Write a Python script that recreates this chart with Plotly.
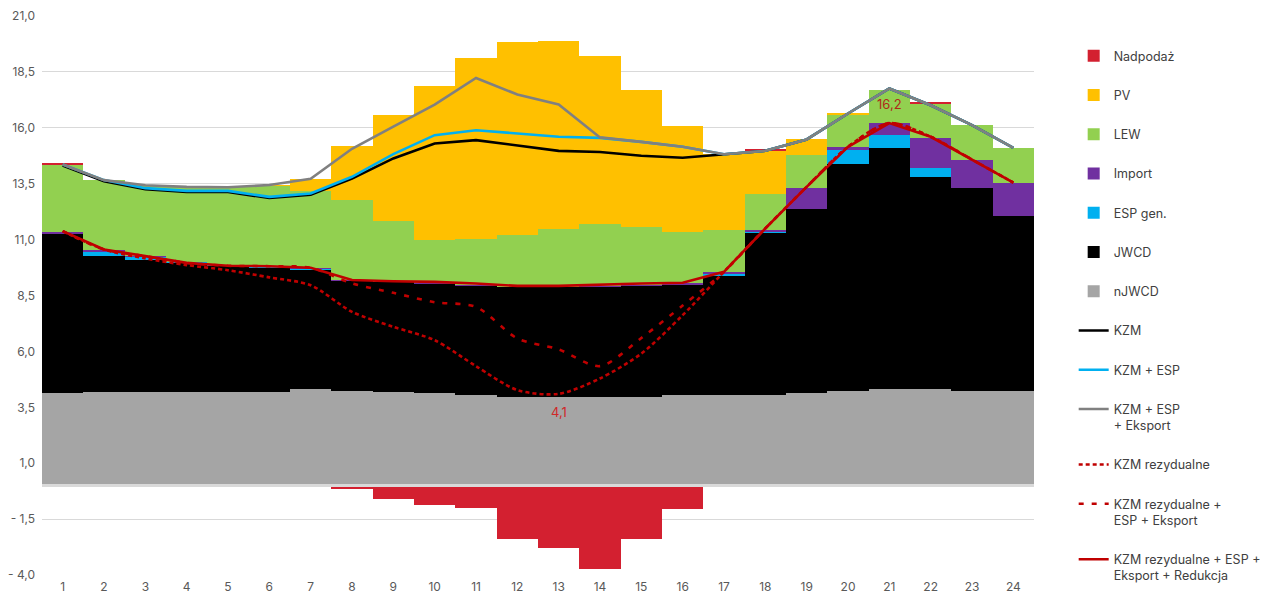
import plotly.graph_objects as go

# godziny doby
godziny = list(range(1, 25))

# slupki (GW) - skladowe bilansu
njwcd = [4.12, 4.19, 4.19, 4.19, 4.19, 4.19, 4.30, 4.25, 4.19, 4.12, 4.07, 3.98,
         3.98, 3.94, 3.98, 4.03, 4.03, 4.03, 4.15, 4.21, 4.30, 4.30, 4.21, 4.21]
jwcd = [7.11, 6.08, 5.92, 5.79, 5.63, 5.58, 5.35, 4.94, 4.92, 4.92, 4.89, 4.91,
        4.91, 4.95, 4.98, 4.97, 5.38, 7.27, 8.20, 10.16, 10.80, 9.52, 9.08, 7.85]
esp_gen = [0.00, 0.18, 0.12, 0.02, 0.05, 0.02, 0.06, 0.00, 0.00, 0.00, 0.00, 0.00,
           0.00, 0.00, 0.00, 0.00, 0.08, 0.03, 0.00, 0.63, 0.58, 0.38, 0.00, 0.00]
import_ = [0.12, 0.07, 0.02, 0.02, 0.01, 0.02, 0.01, 0.01, 0.01, 0.01, 0.01, 0.01,
           0.01, 0.04, 0.01, 0.05, 0.05, 0.12, 0.98, 0.15, 0.53, 1.35, 1.26, 1.45]
lew = [3.01, 3.14, 3.18, 3.34, 3.46, 3.59, 3.46, 3.59, 2.69, 1.95, 2.06, 2.30,
       2.58, 2.77, 2.60, 2.27, 1.90, 1.57, 1.45, 1.45, 1.50, 1.54, 1.57, 1.58]
pv = [0.00, 0.00, 0.00, 0.00, 0.00, 0.04, 0.55, 2.40, 4.77, 6.89, 8.11, 8.62,
      8.39, 7.49, 6.14, 4.75, 3.37, 1.98, 0.71, 0.05, 0.00, 0.00, 0.00, 0.00]
nadpodaz = [0.04, 0, 0, 0, 0, 0, 0, -0.17, -0.58, -0.89, -1.00, -2.41,
            -2.81, -3.72, -2.41, -1.04, 0, 0.04, 0, 0, 0, 0.04, 0, 0]

# linie
kzm = [14.31, 13.61, 13.25, 13.13, 13.13, 12.86, 13.01, 13.73, 14.63, 15.30, 15.45, 15.22,
       14.97, 14.92, 14.75, 14.66, 14.82, 14.97, 15.48, 16.64, 17.76, 17.01, 16.12, 15.10]
kzm_esp = [14.36, 13.66, 13.30, 13.18, 13.18, 12.91, 13.06, 13.81, 14.82, 15.67, 15.89, 15.75,
           15.60, 15.55, 15.37, 15.15, 14.82, 14.97, 15.48, 16.64, 17.76, 17.01, 16.12, 15.10]
kzm_esp_eksport = [14.36, 13.66, 13.43, 13.36, 13.34, 13.44, 13.72, 15.06, 16.05, 17.04, 18.23, 17.49,
                   17.04, 15.57, 15.37, 15.15, 14.82, 14.97, 15.48, 16.64, 17.76, 17.01, 16.12, 15.10]
kzm_rez = [11.38, 10.56, 10.16, 9.86, 9.63, 9.31, 8.96, 7.77, 7.10, 6.50, 5.34, 4.27,
           4.10, 4.79, 5.90, 7.62, 9.56, 11.50, 13.36, 15.15, 16.21, 15.60, 14.58, 13.55]
kzm_rez_esp_eks = [11.38, 10.56, 10.26, 9.96, 9.83, 9.81, 9.74, 9.04, 8.62, 8.20, 7.99, 6.58,
                   6.09, 5.34, 6.60, 8.05, 9.56, 11.50, 13.36, 15.15, 16.21, 15.60, 14.58, 13.55]
kzm_rez_red = [11.38, 10.56, 10.26, 9.96, 9.83, 9.81, 9.74, 9.19, 9.14, 9.11, 9.04, 8.93,
               8.93, 8.99, 9.04, 9.07, 9.56, 11.50, 13.36, 15.15, 16.21, 15.60, 14.58, 13.55]

y_ticks = [-4.0, -1.5, 1.0, 3.5, 6.0, 8.5, 11.0, 13.5, 16.0, 18.5, 21.0]
y_tick_labels = ["- 4,0", "- 1,5", "1,0", "3,5", "6,0", "8,5", "11,0", "13,5", "16,0", "18,5", "21,0"]

font_main = "Inter"
txt_color = "#404040"

fig = go.Figure()

slupki = [
    ("nJWCD", njwcd, "#A5A5A5", 7),
    ("JWCD", jwcd, "#000000", 6),
    ("ESP gen.", esp_gen, "#00B0F0", 5),
    ("Import", import_, "#7030A0", 4),
    ("LEW", lew, "#92D050", 3),
    ("PV", pv, "#FFC000", 2),
    ("Nadpodaż", nadpodaz, "#D32030", 1),
]
for nazwa, wart, kolor, rank in slupki:
    fig.add_trace(go.Bar(x=godziny, y=wart, name=nazwa, marker_color=kolor,
                         marker_line_width=0, legendrank=rank, legendgroup=nazwa))

linie = [
    ("KZM", kzm, "#000000", "solid", "linear", 8),
    ("KZM + ESP", kzm_esp, "#00B0F0", "solid", "linear", 9),
    ("KZM rezydualne", kzm_rez, "#C00000", "4px,3px", "spline", 11),
    ("KZM rezydualne +<br>ESP + Eksport", kzm_rez_esp_eks, "#C00000", "5px,8px", "spline", 12),
    ("KZM rezydualne + ESP +<br>Eksport + Redukcja", kzm_rez_red, "#C00000", "solid", "linear", 13),
    ("KZM + ESP<br>+ Eksport", kzm_esp_eksport, "#808080", "solid", "linear", 10),
]
for nazwa, wart, kolor, dash, ksztalt, rank in linie:
    fig.add_trace(go.Scatter(x=godziny, y=wart, name=nazwa, mode="lines",
                             line=dict(color=kolor, width=2.6, dash=dash, shape=ksztalt, smoothing=0.8),
                             legendrank=rank, legendgroup=nazwa))

# etykiety danych
fig.add_annotation(x=21, y=kzm_rez_red[20], text=f"{kzm_rez_red[20]:.1f}".replace(".", ","),
                   showarrow=False, yshift=19, font=dict(family=font_main, size=13, color="#B0281A"))
fig.add_annotation(x=13, y=kzm_rez[12], text=f"{kzm_rez[12]:.1f}".replace(".", ","),
                   showarrow=False, yshift=-18, font=dict(family=font_main, size=13, color="#D02828"))

fig.add_shape(type="line", xref="paper", x0=0, x1=1, y0=0, y1=0,
              line=dict(color="#D9D9D9", width=3), layer="above")

fig.update_layout(
    width=1282, height=599,
    barmode="relative", bargap=0,
    paper_bgcolor="white", plot_bgcolor="white",
    margin=dict(l=42, r=248, t=16, b=24),
    font=dict(family=font_main, size=12, color=txt_color),
    legend=dict(x=1.04, y=0.955, xanchor="left", yanchor="top", valign="top",
                traceorder="grouped", tracegroupgap=20,
                font=dict(family=font_main, size=12.5, color=txt_color)),
    showlegend=True,
)
fig.update_xaxes(range=[0.5, 24.5], tickvals=godziny, ticktext=[str(h) for h in godziny],
                 showgrid=False, zeroline=False, showline=False, automargin=False,
                 tickfont=dict(size=12, color="#595959"), ticks="", ticklabelstandoff=3)
fig.update_yaxes(range=[-4, 21], tickvals=y_ticks, ticktext=y_tick_labels, automargin=False,
                 showgrid=True, gridcolor="#D9D9D9", gridwidth=1, zeroline=False, showline=False,
                 tickfont=dict(size=12, color="#595959"), ticklabelstandoff=6)

fig.write_html("out.html", config={"displayModeBar": False},
               post_script="document.body.style.margin='0';")
